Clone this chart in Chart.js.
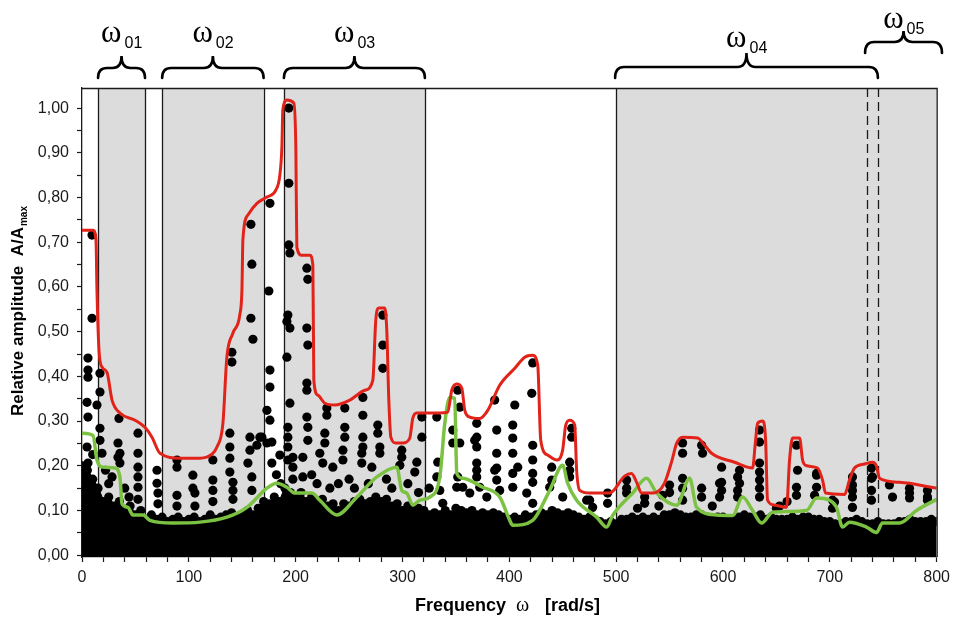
<!DOCTYPE html>
<html>
<head>
<meta charset="utf-8">
<script src="https://cdn.jsdelivr.net/npm/chart.js@4.4.0/dist/chart.umd.min.js"></script>
<style>
  html, body { margin: 0; padding: 0; background: #fff; }
  #wrap { width: 956px; height: 617px; }
</style>
</head>
<body>
<div id="wrap"><canvas id="spectrum" width="956" height="617"></canvas></div>
<script>
// frequency bands (rad/s) that are shaded grey
const bandRanges = [[15, 59], [75, 170], [189, 321], [500, 800]];
const dashedLines = [735, 745];
// braces above the plot and their subscripts
const braceRanges = [[15, 59], [75, 170], [189, 321], [499, 745], [733, 805]];
const braceLabels = ['01', '02', '03', '04', '05'];

// red envelope (upper bound)
const envelope = [
  [0, 0.727], [10.3, 0.727], [13.1, 0.705], [14.0, 0.593], [15.9, 0.459], [18.7, 0.421],
  [23.4, 0.409], [28.1, 0.347], [35.5, 0.318], [49.6, 0.302], [58.9, 0.286], [65.5, 0.264],
  [73.0, 0.228], [91.7, 0.217], [110.4, 0.217], [121.6, 0.226], [126.3, 0.242], [131.9, 0.295],
  [135.6, 0.443], [141.3, 0.497], [147.8, 0.539], [149.7, 0.593], [150.6, 0.705], [155.3, 0.761],
  [163.7, 0.787], [173.1, 0.801], [181.5, 0.817], [185.2, 0.85], [187.1, 0.913], [188.0, 0.996],
  [191.8, 1.018], [198.3, 1.011], [200.2, 0.906], [201.1, 0.689], [205.8, 0.671], [213.3, 0.671],
  [216.1, 0.649], [217.0, 0.391], [220.8, 0.358], [227.3, 0.340], [236.7, 0.336], [250.7, 0.347],
  [264.7, 0.369], [272.2, 0.391], [275.0, 0.526], [277.8, 0.553], [283.4, 0.553], [285.3, 0.503],
  [287.2, 0.347], [289.1, 0.264], [293.7, 0.251], [300.3, 0.251], [306.8, 0.262], [309.6, 0.306],
  [313.4, 0.318], [334.9, 0.318], [342.4, 0.320], [346.1, 0.369], [350.8, 0.383], [355.5, 0.374],
  [358.3, 0.324], [363.0, 0.309], [372.3, 0.306], [379.8, 0.324], [391.0, 0.380], [405.1, 0.418],
  [414.4, 0.443], [421.9, 0.447], [426.6, 0.425], [429.4, 0.257], [435.9, 0.224], [444.3, 0.213],
  [449.9, 0.235], [452.8, 0.291], [456.5, 0.302], [461.2, 0.291], [463.0, 0.190], [465.9, 0.145],
  [475.2, 0.139], [493.9, 0.139], [507.9, 0.177], [514.5, 0.183], [519.2, 0.163], [523.9, 0.139],
  [535.0, 0.139], [545.0, 0.160], [552.0, 0.210], [556.6, 0.250], [562.2, 0.264], [576.2, 0.262],
  [582.8, 0.246], [589.3, 0.228], [610.8, 0.208], [627.7, 0.195], [630.5, 0.257], [632.4, 0.295],
  [637.0, 0.300], [639.9, 0.257], [641.7, 0.123], [648.3, 0.112], [659.5, 0.107], [662.3, 0.213],
  [665.1, 0.262], [671.7, 0.262], [674.5, 0.213], [677.3, 0.201], [688.5, 0.195], [693.2, 0.168],
  [696.0, 0.139], [713.8, 0.136], [718.4, 0.168], [723.1, 0.195], [732.5, 0.204], [739.9, 0.208],
  [743.7, 0.199], [746.5, 0.172], [765.2, 0.163], [800, 0.150]
];

// green curve (lower level)
const lowerLevel = [
  [0, 0.273], [10.3, 0.268], [14.0, 0.213], [19.6, 0.197], [30.9, 0.195], [35.5, 0.175],
  [37.4, 0.116], [43.0, 0.107], [47.7, 0.090], [57.1, 0.090], [63.6, 0.078], [85.1, 0.072],
  [110.4, 0.074], [135.6, 0.085], [154.4, 0.107], [173.1, 0.150], [182.4, 0.161], [191.8, 0.152],
  [199.3, 0.139], [215.2, 0.139], [222.6, 0.123], [238.5, 0.090], [257.3, 0.130], [276.0, 0.175],
  [294.7, 0.197], [299.3, 0.145], [304.0, 0.139], [309.6, 0.112], [316.2, 0.123], [325.5, 0.130],
  [334.9, 0.175], [339.6, 0.295], [344.2, 0.353], [348.9, 0.351], [350.8, 0.183], [356.4, 0.172],
  [375.1, 0.152], [391.0, 0.130], [400.4, 0.078], [403.2, 0.067], [421.9, 0.078], [437.8, 0.145],
  [450.0, 0.201], [454.6, 0.161], [463.0, 0.123], [481.8, 0.085], [491.1, 0.063], [496.7, 0.089],
  [515.4, 0.139], [528.5, 0.172], [537.9, 0.139], [556.6, 0.112], [568.8, 0.172], [575.3, 0.107],
  [594.0, 0.090], [609.0, 0.089], [618.3, 0.130], [627.7, 0.100], [636.1, 0.072], [646.4, 0.096],
  [678.2, 0.100], [687.6, 0.128], [699.7, 0.123], [706.3, 0.107], [711.9, 0.063], [718.4, 0.074],
  [734.3, 0.063], [743.7, 0.051], [749.3, 0.072], [765.2, 0.072], [781.1, 0.100], [800, 0.125]
];

// upper edge of the dense black mass of points near zero, every 5 rad/s
const noiseX = [];
for (let f = 0; f <= 800; f += 5) noiseX.push(f);
const noiseTop = [
  0.20, 0.19, 0.17, 0.15, 0.12, 0.13, 0.11, 0.12, 0.10, 0.11, 0.09, 0.10, 0.08, 0.09, 0.08, 0.085,
  0.075, 0.08, 0.085, 0.075, 0.08, 0.085, 0.075, 0.08, 0.09, 0.08, 0.085, 0.09, 0.095, 0.085, 0.09, 0.10,
  0.09, 0.105, 0.12, 0.115, 0.13, 0.12, 0.15, 0.14, 0.13, 0.14, 0.12, 0.13, 0.12, 0.125, 0.11, 0.115,
  0.10, 0.115, 0.11, 0.12, 0.125, 0.115, 0.12, 0.13, 0.12, 0.125, 0.11, 0.115, 0.10, 0.11, 0.10, 0.105,
  0.10, 0.09, 0.095, 0.09, 0.10, 0.09, 0.105, 0.10, 0.095, 0.10, 0.09, 0.095, 0.09, 0.095, 0.09, 0.085,
  0.08, 0.085, 0.08, 0.09, 0.085, 0.09, 0.095, 0.09, 0.10, 0.095, 0.09, 0.095, 0.09, 0.085, 0.08, 0.085,
  0.08, 0.075, 0.07, 0.075, 0.07, 0.08, 0.08, 0.085, 0.08, 0.085, 0.08, 0.085, 0.08, 0.09, 0.09, 0.095,
  0.09, 0.085, 0.085, 0.09, 0.09, 0.085, 0.08, 0.085, 0.085, 0.08, 0.08, 0.085, 0.09, 0.085, 0.085, 0.09,
  0.08, 0.085, 0.08, 0.08, 0.08, 0.085, 0.08, 0.085, 0.085, 0.08, 0.08, 0.075, 0.075, 0.07, 0.07, 0.075,
  0.075, 0.08, 0.075, 0.07, 0.07, 0.075, 0.07, 0.07, 0.07, 0.075, 0.075, 0.08, 0.075, 0.075, 0.075, 0.08,
  0.075
];

// individual spectral points standing out above the mass
const peakPoints = [
  [9.4, 0.716], [9.4, 0.530], [5.6, 0.441], [5.6, 0.414], [5.6, 0.398], [4.7, 0.342], [5.6, 0.309],
  [4.7, 0.242], [5.6, 0.206], [10.0, 0.225],
  [16.8, 0.407], [16.8, 0.365], [14.0, 0.336], [16.8, 0.284], [16.8, 0.257], [18.7, 0.228],
  [22.0, 0.19], [25.0, 0.16], [28.1, 0.175], [34.6, 0.306], [33.7, 0.251], [33.7, 0.219], [35.5, 0.228],
  [35.5, 0.206], [40.0, 0.15], [44.0, 0.13],
  [52.4, 0.273], [52.4, 0.228], [52.4, 0.197], [52.4, 0.175], [52.4, 0.152], [52.4, 0.125],
  [70.2, 0.190], [70.2, 0.161], [71.1, 0.139], [71.1, 0.115],
  [88.9, 0.213], [88.9, 0.197], [88.9, 0.134], [88.9, 0.110],
  [103.8, 0.179], [103.8, 0.150], [105.7, 0.139], [105.7, 0.110],
  [122.5, 0.213], [122.5, 0.168], [122.5, 0.145], [122.5, 0.120],
  [138.4, 0.273], [138.4, 0.242], [138.4, 0.217], [138.4, 0.186], [140.3, 0.454], [140.3, 0.432],
  [141.3, 0.163], [141.3, 0.145], [141.3, 0.125],
  [158.1, 0.740], [159.0, 0.651], [158.1, 0.530], [160.0, 0.483], [157.2, 0.264], [157.2, 0.235],
  [155.3, 0.206], [159.0, 0.175], [159.0, 0.145],
  [163.7, 0.246], [166.5, 0.264], [168.4, 0.264], [173.1, 0.251],
  [175.9, 0.787], [174.9, 0.591], [175.9, 0.414], [175.9, 0.376], [173.1, 0.324], [175.9, 0.302],
  [177.7, 0.253], [177.7, 0.206], [185.2, 0.224], [182.0, 0.18], [186.0, 0.16],
  [193.6, 1.000], [193.6, 0.832], [193.6, 0.694], [194.6, 0.676], [192.7, 0.537], [191.8, 0.523],
  [194.6, 0.508], [191.8, 0.443], [194.6, 0.340], [192.7, 0.286], [192.7, 0.264], [192.7, 0.242],
  [192.7, 0.213], [197.4, 0.219], [197.4, 0.197], [197.4, 0.17],
  [210.5, 0.642], [211.4, 0.617], [210.5, 0.508], [211.4, 0.470], [210.5, 0.385], [210.5, 0.369],
  [210.5, 0.309], [211.4, 0.286], [211.4, 0.257], [206.7, 0.219], [206.7, 0.175], [215.0, 0.18],
  [220.0, 0.16], [222.6, 0.228], [225.4, 0.206], [229.2, 0.329], [229.2, 0.313], [227.3, 0.273],
  [227.3, 0.251], [232.0, 0.15], [234.8, 0.197], [240.0, 0.16], [244.2, 0.235], [244.2, 0.213],
  [246.0, 0.329], [246.0, 0.286], [246.0, 0.264], [250.0, 0.17], [255.0, 0.15],
  [262.9, 0.353], [262.9, 0.313], [262.9, 0.264], [262.9, 0.242], [261.9, 0.228], [261.9, 0.206],
  [268.0, 0.16], [271.3, 0.197], [276.9, 0.291], [276.9, 0.273], [278.8, 0.242], [278.8, 0.228],
  [281.6, 0.537], [281.6, 0.470], [281.6, 0.418], [285.0, 0.17], [290.0, 0.15],
  [299.3, 0.235], [299.3, 0.219], [297.5, 0.201], [305.0, 0.16],
  [313.4, 0.208], [311.5, 0.186], [315.0, 0.14], [318.1, 0.309], [318.1, 0.264], [325.0, 0.15],
  [332.1, 0.309], [333.0, 0.208], [332.1, 0.175], [334.9, 0.145], [337.7, 0.116],
  [351.7, 0.369], [353.6, 0.331], [347.1, 0.280], [347.1, 0.251], [353.6, 0.251], [351.7, 0.175],
  [350.8, 0.152], [356.4, 0.152], [363.0, 0.139],
  [369.5, 0.295], [369.5, 0.264], [369.5, 0.242], [367.6, 0.257], [369.5, 0.206], [369.5, 0.190],
  [369.5, 0.175], [372.3, 0.152], [378.9, 0.130],
  [386.3, 0.347], [388.2, 0.280], [388.2, 0.228], [388.2, 0.195], [386.3, 0.190], [388.2, 0.168],
  [391.0, 0.145],
  [405.1, 0.336], [403.2, 0.291], [403.2, 0.262], [403.2, 0.228], [403.2, 0.183], [407.9, 0.197],
  [403.2, 0.152], [416.3, 0.139],
  [421.9, 0.430], [421.0, 0.362], [421.9, 0.246], [421.9, 0.213], [421.9, 0.183], [421.9, 0.163],
  [421.9, 0.116], [437.8, 0.152], [439.7, 0.197], [439.7, 0.168], [450.0, 0.130],
  [458.4, 0.284], [458.4, 0.264], [456.5, 0.208], [456.5, 0.190], [456.5, 0.175],
  [472.4, 0.123], [475.2, 0.123], [478.0, 0.107], [492.0, 0.139], [492.0, 0.116],
  [509.8, 0.168], [509.8, 0.150], [509.8, 0.139], [520.0, 0.105], [526.7, 0.130], [526.7, 0.116],
  [540.0, 0.110], [543.5, 0.134], [550.0, 0.157], [550.0, 0.140],
  [562.2, 0.251], [562.2, 0.228], [562.2, 0.172], [562.2, 0.150], [562.2, 0.123],
  [580.0, 0.246], [580.9, 0.228], [580.0, 0.150], [580.0, 0.130], [590.0, 0.110],
  [596.8, 0.161], [596.8, 0.130], [598.7, 0.197], [598.7, 0.163], [598.7, 0.145],
  [613.7, 0.175], [613.7, 0.145], [613.7, 0.130], [615.5, 0.190], [615.5, 0.161],
  [634.2, 0.280], [634.2, 0.253], [634.2, 0.206], [634.2, 0.186], [634.2, 0.168], [634.2, 0.150],
  [634.2, 0.130], [650.0, 0.105], [653.0, 0.110], [660.0, 0.120],
  [668.8, 0.246], [669.8, 0.190], [668.8, 0.152], [668.8, 0.134],
  [687.6, 0.183], [687.6, 0.179], [687.6, 0.152], [685.7, 0.134], [702.5, 0.123], [702.5, 0.105],
  [704.4, 0.119],
  [721.2, 0.175], [721.2, 0.157], [721.2, 0.145], [721.2, 0.130], [721.2, 0.107],
  [739.0, 0.195], [739.0, 0.172], [739.0, 0.145], [739.0, 0.123], [739.9, 0.175],
  [755.8, 0.157], [758.7, 0.130], [774.6, 0.150], [774.6, 0.139], [774.6, 0.128],
  [791.4, 0.145], [791.4, 0.130], [791.4, 0.123]
];

const FONT = '"Liberation Sans", Arial, sans-serif';
const SERIF = '"Liberation Serif", "Times New Roman", serif';

const toXY = arr => arr.map(p => ({ x: p[0], y: p[1] }));

// grey bands, separators and dashed markers behind the data
const bandShading = {
  id: 'bandShading',
  beforeDatasetsDraw(chart) {
    const { ctx, chartArea: a, scales: { x } } = chart;
    ctx.save();
    ctx.fillStyle = '#dcdcdc';
    bandRanges.forEach(([lo, hi]) => {
      const x1 = x.getPixelForValue(lo);
      const x2 = x.getPixelForValue(hi);
      ctx.fillRect(x1, a.top, x2 - x1, a.bottom - a.top);
    });
    ctx.strokeStyle = '#1a1a1a';
    ctx.lineWidth = 1.3;
    bandRanges.forEach(([lo, hi]) => {
      [lo, hi].forEach(v => {
        if (v >= 800) return;
        const px = Math.round(x.getPixelForValue(v)) + 0.5;
        ctx.beginPath();
        ctx.moveTo(px, a.top);
        ctx.lineTo(px, a.bottom);
        ctx.stroke();
      });
    });
    ctx.setLineDash([9, 5]);
    dashedLines.forEach(v => {
      const px = Math.round(x.getPixelForValue(v)) + 0.5;
      ctx.beginPath();
      ctx.moveTo(px, a.top);
      ctx.lineTo(px, a.bottom);
      ctx.stroke();
    });
    ctx.restore();
  }
};

function drawBrace(ctx, x1, x2, yEnd, yBar, yTip) {
  const xm = (x1 + x2) / 2;
  const r = 9;
  ctx.beginPath();
  ctx.moveTo(x1, yEnd);
  ctx.quadraticCurveTo(x1, yBar, x1 + r, yBar);
  ctx.lineTo(xm - r, yBar);
  ctx.quadraticCurveTo(xm, yBar, xm, yTip);
  ctx.quadraticCurveTo(xm, yBar, xm + r, yBar);
  ctx.lineTo(x2 - r, yBar);
  ctx.quadraticCurveTo(x2, yBar, x2, yEnd);
  ctx.stroke();
}

// frame, braces with labels and axis titles
const decorations = {
  id: 'decorations',
  afterDraw(chart) {
    const { ctx, chartArea: a, scales: { x } } = chart;
    ctx.save();
    ctx.strokeStyle = '#1a1a1a';
    ctx.lineWidth = 1.3;
    ctx.beginPath();
    ctx.moveTo(a.left, a.top + 0.5);
    ctx.lineTo(a.right + 0.5, a.top + 0.5);
    ctx.lineTo(a.right + 0.5, a.bottom);
    ctx.stroke();

    // brace levels: [end, bar, tip, label baseline]
    const levels = [[78, 68, 56, 42], [78, 68, 56, 42], [78, 68, 56, 42], [78, 67, 53, 47], [53, 42, 31, 28]];
    ctx.lineWidth = 2.6;
    ctx.lineCap = 'round';
    ctx.strokeStyle = '#000';
    ctx.fillStyle = '#000';
    braceRanges.forEach(([lo, hi], i) => {
      const [yEnd, yBar, yTip, yLab] = levels[i];
      const x1 = x.getPixelForValue(lo);
      const x2 = x.getPixelForValue(hi);
      drawBrace(ctx, x1, x2, yEnd, yBar, yTip);
      const xm = (x1 + x2) / 2;
      ctx.font = '31px ' + SERIF;
      ctx.textAlign = 'right';
      ctx.textBaseline = 'alphabetic';
      ctx.fillText('\u03c9', xm, yLab);
      ctx.font = '16px ' + FONT;
      ctx.textAlign = 'left';
      ctx.fillText(braceLabels[i], xm + 3, yLab + 6);
    });

    // x title
    ctx.textAlign = 'left';
    ctx.font = 'bold 18px ' + FONT;
    ctx.fillText('Frequency', 415, 611);
    ctx.font = '20px ' + SERIF;
    ctx.fillText('\u03c9', 516, 611);
    ctx.font = 'bold 18px ' + FONT;
    ctx.fillText('[rad/s]', 545, 611);

    // y title (rotated)
    ctx.translate(23, 311);
    ctx.rotate(-Math.PI / 2);
    ctx.font = 'bold 17px ' + FONT;
    const main = 'Relative amplitude  A/A';
    const wMain = ctx.measureText(main).width;
    ctx.font = 'bold 10px ' + FONT;
    const wSub = ctx.measureText('max').width;
    const start = -(wMain + wSub + 1) / 2;
    ctx.font = 'bold 17px ' + FONT;
    ctx.fillText(main, start, 0);
    ctx.font = 'bold 10px ' + FONT;
    ctx.fillText('max', start + wMain + 1, 4);
    ctx.restore();
  }
};

new Chart(document.getElementById('spectrum'), {
  type: 'scatter',
  data: {
    datasets: [
      {
        label: 'envelope',
        data: toXY(envelope),
        showLine: true,
        borderColor: '#e2231a',
        borderWidth: 3,
        pointRadius: 0,
        cubicInterpolationMode: 'monotone',
        order: 0
      },
      {
        label: 'lower',
        data: toXY(lowerLevel),
        showLine: true,
        borderColor: '#7cc242',
        borderWidth: 3.5,
        pointRadius: 0,
        cubicInterpolationMode: 'monotone',
        order: 1
      },
      {
        label: 'peaks',
        data: toXY(peakPoints),
        backgroundColor: '#000',
        borderWidth: 0,
        pointRadius: 4.6,
        order: 2
      },
      {
        label: 'noise',
        data: noiseX.map((v, i) => ({ x: v, y: noiseTop[i] })),
        showLine: true,
        fill: 'start',
        backgroundColor: '#000',
        borderColor: '#000',
        borderWidth: 2,
        pointRadius: 4.6,
        pointBackgroundColor: '#000',
        pointBorderWidth: 0,
        order: 3
      }
    ]
  },
  options: {
    responsive: false,
    animation: false,
    devicePixelRatio: 1,
    layout: { padding: { top: 88, right: 19, left: 0, bottom: 0 } },
    plugins: { legend: { display: false }, tooltip: { enabled: false } },
    scales: {
      x: {
        type: 'linear',
        min: 0,
        max: 800,
        afterFit: s => { s.height = 60; },
        afterBuildTicks: s => {
          const t = [];
          for (let v = 0; v <= 800; v += 20) t.push({ value: v });
          s.ticks = t;
        },
        ticks: {
          autoSkip: false,
          maxRotation: 0,
          padding: 6,
          color: '#1a1a1a',
          font: { family: FONT, size: 16 },
          callback: v => (v % 100 === 0 ? String(v) : '')
        },
        grid: { drawOnChartArea: false, tickLength: 5, color: '#1a1a1a', tickWidth: 1.2 },
        border: { color: '#1a1a1a', width: 1.3 }
      },
      y: {
        type: 'linear',
        min: -0.004,
        max: 1.045,
        afterFit: s => { s.width = 82; },
        afterBuildTicks: s => {
          const t = [];
          for (let k = 0; k <= 20; k++) t.push({ value: k * 0.05 });
          s.ticks = t;
        },
        ticks: {
          autoSkip: false,
          padding: 8,
          color: '#1a1a1a',
          font: { family: FONT, size: 16 },
          callback: v => {
            const k = Math.round(v * 20);
            return k % 2 === 0 ? (k / 20).toFixed(2).replace('.', ',') : '';
          }
        },
        grid: { drawOnChartArea: false, tickLength: 5, color: '#1a1a1a', tickWidth: 1.2 },
        border: { color: '#1a1a1a', width: 1.3 }
      }
    }
  },
  plugins: [bandShading, decorations]
});
</script>
</body>
</html>
